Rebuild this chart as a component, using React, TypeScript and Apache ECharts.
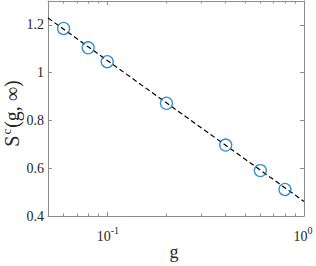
import React, { useEffect, useRef } from "react";
import * as echarts from "echarts";

const gValues = [0.06, 0.08, 0.1, 0.2, 0.4, 0.6, 0.8];
const scValues = [1.185, 1.104, 1.046, 0.872, 0.697, 0.59, 0.511];
const fitG = [0.05, 1];
const fitS = [1.229, 0.461];
const xMajorTicks = [0.1, 1];
const xMajorExponents = ["-1", "0"];
const xMinorTicks = [0.05, 0.06, 0.07, 0.08, 0.09, 0.2, 0.3, 0.4, 0.5, 0.6, 0.7, 0.8, 0.9];
const yTicks = [0.4, 0.6, 0.8, 1, 1.2];
const yTickLabels = ["0.4", "0.6", "0.8", "1", "1.2"];

const W = 316;
const H = 266;
const FAMILY = "Liberation Serif";
const AXIS_COLOR = "#8c8c8c";
const TEXT_COLOR = "#262626";

function measure(text: string, font: string): number {
  const c = document.createElement("canvas").getContext("2d");
  if (!c) return text.length * 8;
  c.font = font;
  return c.measureText(text).width;
}

function baseOption(): any {
  const xBase = {
    type: "log",
    logBase: 10,
    min: 0.05,
    max: 1,
    splitLine: { show: false },
    minorTick: { show: false },
    axisLabel: { show: false },
  };
  const tickStyle = { color: AXIS_COLOR, width: 1 };
  const yBase = {
    type: "value",
    min: 0.4,
    max: 1.3,
    splitLine: { show: false },
    axisLabel: { show: false },
    axisLine: { show: true, lineStyle: tickStyle },
    axisTick: { show: true, inside: true, length: 4, customValues: yTicks, lineStyle: tickStyle },
  };
  return {
    animation: false,
    backgroundColor: "#ffffff",
    textStyle: { fontFamily: FAMILY },
    grid: { left: 48, right: 12, top: 1, bottom: 50, containLabel: false },
    xAxis: [
      {
        ...xBase,
        position: "bottom",
        axisLine: { show: true, lineStyle: tickStyle },
        axisTick: { show: true, inside: true, length: 4, customValues: xMajorTicks, lineStyle: tickStyle },
      },
      {
        ...xBase,
        position: "bottom",
        axisLine: { show: false },
        axisTick: { show: true, inside: true, length: 2.5, customValues: xMinorTicks, lineStyle: tickStyle },
      },
      {
        ...xBase,
        position: "top",
        axisLine: { show: true, lineStyle: tickStyle },
        axisTick: { show: true, inside: true, length: 4, customValues: xMajorTicks, lineStyle: tickStyle },
      },
      {
        ...xBase,
        position: "top",
        axisLine: { show: false },
        axisTick: { show: true, inside: true, length: 2.5, customValues: xMinorTicks, lineStyle: tickStyle },
      },
    ],
    yAxis: [
      { ...yBase, position: "left" },
      { ...yBase, position: "right" },
    ],
    series: [
      {
        type: "line",
        xAxisIndex: 0,
        yAxisIndex: 0,
        data: fitG.map((g, i) => [g, fitS[i]]),
        showSymbol: false,
        symbol: "none",
        lineStyle: { color: "#000000", width: 1.2, type: [5, 3] },
        z: 2,
      },
      {
        type: "scatter",
        xAxisIndex: 0,
        yAxisIndex: 0,
        data: gValues.map((g, i) => [g, scValues[i]]),
        symbol: "circle",
        symbolSize: 12,
        itemStyle: { color: "rgba(0,0,0,0)", borderColor: "#0072BD", borderWidth: 1.3 },
        z: 3,
      },
    ],
  };
}

export default function App() {
  const ref = useRef<HTMLDivElement>(null);
  useEffect(() => {
    if (!ref.current) return;

    // measuring pass: read pixel positions from the library's own scales
    const probeDiv = document.createElement("div");
    const probe = echarts.init(probeDiv, undefined, { renderer: "svg", width: W, height: H });
    probe.setOption(baseOption());
    const px = (v: number) => probe.convertToPixel({ xAxisIndex: 0 }, v) as number;
    const py = (v: number) => probe.convertToPixel({ yAxisIndex: 0 }, v) as number;
    const plotLeft = px(0.05);
    const plotRight = px(1);
    const plotBottom = py(0.4);
    const plotTop = py(1.3);
    const yPos = yTicks.map(py);
    const xPos = xMajorTicks.map(px);
    probe.dispose();

    const f = (size: number) => `${size}px ${FAMILY}`;
    const graphics: any[] = [];

    yTicks.forEach((_, i) => {
      graphics.push({
        type: "text",
        right: W - (plotLeft - 4),
        top: yPos[i] - 7,
        style: { text: yTickLabels[i], font: f(14), fill: TEXT_COLOR },
      });
    });
    xPos.forEach((x, i) => {
      graphics.push({
        type: "text",
        right: W - (x + 3.5),
        top: plotBottom + 20 - 7,
        style: { text: "10", font: f(14), fill: TEXT_COLOR },
      });
      graphics.push({
        type: "text",
        left: x + 3.5,
        top: plotBottom + 14 - 5,
        style: { text: xMajorExponents[i], font: f(10), fill: TEXT_COLOR },
      });
    });
    graphics.push({
      type: "text",
      left: (plotLeft + plotRight) / 2 - 2 - measure("g", f(18)) / 2,
      top: plotBottom + 36 - 9,
      style: { text: "g", font: f(18), fill: TEXT_COLOR },
    });

    // y-axis name S^c(g, ∞), reading upwards
    const pieces = [
      { t: "S", s: 20, dx: 0 },
      { t: "c", s: 13, dx: -6 },
      { t: "(g, ∞)", s: 20, dx: 0 },
    ];
    const gap = 1;
    const widths = pieces.map((p) => measure(p.t, f(p.s)));
    const total = widths.reduce((a, b) => a + b, 0) + gap * (pieces.length - 1);
    const nameX = 12;
    let yCursor = (plotTop + plotBottom) / 2 + 5 + total / 2;
    pieces.forEach((p, i) => {
      graphics.push({
        type: "text",
        x: nameX + p.dx,
        y: yCursor,
        rotation: Math.PI / 2,
        style: { text: p.t, font: f(p.s), fill: TEXT_COLOR, align: "left", verticalAlign: "middle" },
      });
      yCursor -= widths[i] + gap;
    });

    const chart = echarts.init(ref.current, undefined, { renderer: "svg" });
    chart.setOption({ ...baseOption(), graphic: graphics });
    return () => chart.dispose();
  }, []);
  return (
    <div
      ref={ref}
      style={{ position: "fixed", left: 0, top: 0, width: W, height: H, background: "#fff" }}
    />
  );
}
